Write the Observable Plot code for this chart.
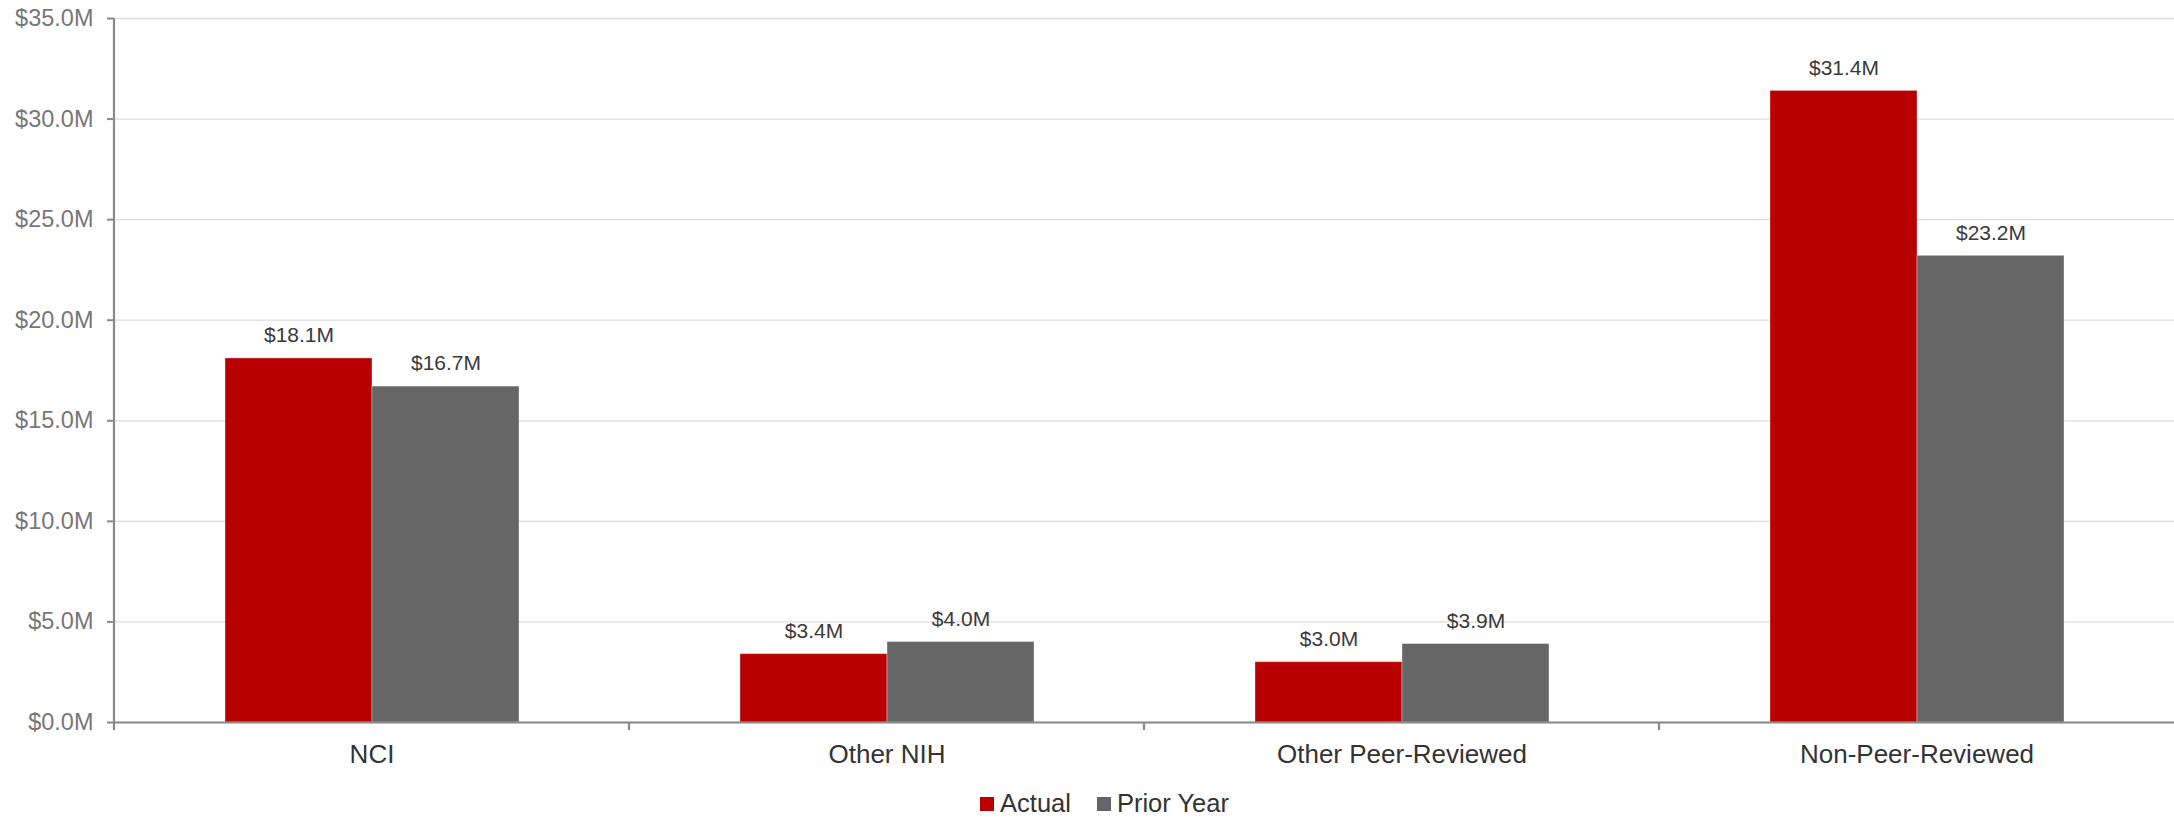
<!DOCTYPE html>
<html>
<head>
<meta charset="utf-8">
<script src="https://cdn.jsdelivr.net/npm/d3@7"></script>
<script src="https://cdn.jsdelivr.net/npm/@observablehq/plot@0.6"></script>
<style>
  html, body { margin: 0; padding: 0; background: #fff; }
  body { width: 2174px; font-family: "Liberation Sans", Arial, Helvetica, sans-serif; }
  #legend { display: flex; justify-content: center; align-items: center; height: 37px; padding-left: 35px; box-sizing: border-box; font-size: 25.5px; color: #333; }
  .item { display: flex; align-items: center; margin: 0 13px; }
  .sw { width: 14px; height: 14px; margin-right: 6px; }
</style>
</head>
<body>
<div id="chart"></div>
<div id="legend"></div>
<script>
// ---- data ----
const categories = ["NCI", "Other NIH", "Other Peer-Reviewed", "Non-Peer-Reviewed"];
const series = ["Actual", "Prior Year"];
const actual = [18.1, 3.4, 3.0, 31.4];      // $M
const priorYear = [16.7, 4.0, 3.9, 23.2];   // $M
const yTicks = [0, 5, 10, 15, 20, 25, 30, 35];
const colors = ["#b80000", "#666666"];

const rows = [];
categories.forEach((c, i) => {
  rows.push({category: c, series: series[0], value: actual[i]});
  rows.push({category: c, series: series[1], value: priorYear[i]});
});
const fmt = v => "$" + v.toFixed(1) + "M";

const W = 2174, H = 785;
const chart = Plot.plot({
  width: W,
  height: H,
  marginTop: 18,
  marginBottom: 63,
  marginLeft: 114,
  marginRight: 0,
  style: {fontFamily: '"Liberation Sans", Arial, Helvetica, sans-serif', background: "#fff"},
  fx: {domain: categories, padding: 0, label: null},
  x: {domain: series, paddingInner: 0, paddingOuter: 0.75, axis: null},
  y: {domain: [0, 35], label: null},
  color: {domain: series, range: colors},
  marks: [
    Plot.gridY(yTicks, {stroke: "#dcdcdc", strokeOpacity: 1, strokeWidth: 1.3}),
    Plot.barY(rows, {fx: "category", x: "series", y: "value", fill: "series", stroke: "#ffffff", strokeOpacity: 0.35, strokeWidth: 1}),
    Plot.text(rows, {fx: "category", x: "series", y: "value", text: d => fmt(d.value), dy: -23, fontSize: 21, fill: "#3a3a3a"}),
    Plot.ruleY([0], {stroke: "#8a8a8a", strokeWidth: 2.2}),
    Plot.axisY(yTicks, {tickFormat: fmt, tickSize: 7, tickPadding: 14, fontSize: 23.5, stroke: "#8a8a8a", strokeWidth: 2, fill: "#777", label: null}),
    Plot.axisFx({anchor: "bottom", tickSize: 0, tickPadding: 22, fontSize: 26, fill: "#333", label: null})
  ]
});
document.getElementById("chart").appendChild(chart);

// axis line and category boundary ticks, placed with Plot's own scales
const fxs = chart.scale("fx"), ys = chart.scale("y");
const fxBand = d3.scaleBand().domain(fxs.domain).range(fxs.range).paddingInner(fxs.paddingInner || 0).paddingOuter(fxs.paddingOuter || 0);
const yLin = d3.scaleLinear().domain(ys.domain).range(ys.range);
const svg = d3.select(chart);
const g = svg.append("g").attr("stroke", "#8a8a8a").attr("stroke-width", 2.2);
const x0 = fxBand(categories[0]);
g.append("line").attr("x1", x0).attr("x2", x0).attr("y1", yLin(35)).attr("y2", yLin(0) + 8);
categories.slice(1).forEach(c => {
  const x = fxBand(c);
  g.append("line").attr("x1", x).attr("x2", x).attr("y1", yLin(0)).attr("y2", yLin(0) + 8);
});

// legend
const lg = d3.select("#legend");
series.forEach((s, i) => {
  const it = lg.append("div").attr("class", "item");
  it.append("div").attr("class", "sw").style("background", colors[i]);
  it.append("span").text(s);
});
</script>
</body>
</html>
